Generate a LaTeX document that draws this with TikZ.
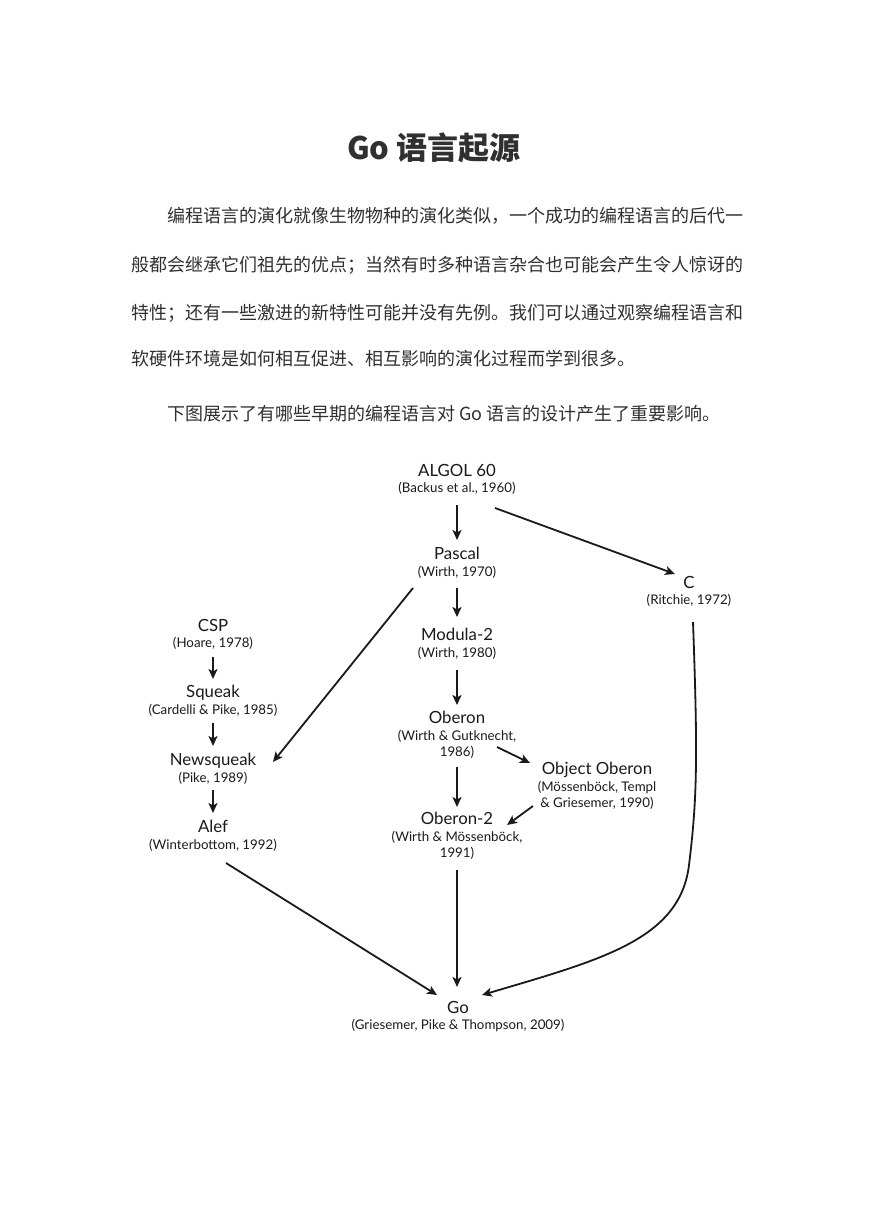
\documentclass[tikz,border=0pt]{standalone}
\usepackage{fontspec}
\newfontfamily\cjk{Noto Sans CJK SC}
\newfontfamily\lato{Lato}
\usetikzlibrary{arrows.meta,calc}
\definecolor{ink}{HTML}{1A1A1A}
\definecolor{bodytext}{HTML}{303030}
\newcommand\lname[1]{{\fontsize{16.8}{16.5}\selectfont\rule{0pt}{12pt}#1}}
\tikzset{
  body/.style={anchor=base west, inner sep=0pt, text=bodytext, font=\cjk\fontsize{18}{18}\selectfont},
  lang/.style={anchor=north, align=center, inner sep=0pt, text=ink, font=\lato\fontsize{13.3}{16.5}\selectfont},
  arr/.style={draw=ink, line width=1.8pt, -{Stealth[length=10pt,width=9pt,inset=2.5pt]}}
}
\begin{document}
\begin{tikzpicture}[x=1pt,y=-1pt]
\fill[white] (0,0) rectangle (868,1228);
\useasboundingbox (0,0) rectangle (868,1228);

\node[anchor=base, inner sep=0pt, text=bodytext, font=\cjk\bfseries\fontsize{31}{31}\selectfont] (title) at (434,159) {Go 语言起源};

\node[body] (p1) at (167,222) {编程语言的演化就像生物物种的演化类似，一个成功的编程语言的后代一};
\node[body] (p2) at (131,271) {般都会继承它们祖先的优点；当然有时多种语言杂合也可能会产生令人惊讶的};
\node[body] (p3) at (131,319) {特性；还有一些激进的新特性可能并没有先例。我们可以通过观察编程语言和};
\node[body] (p4) at (131,365) {软硬件环境是如何相互促进、相互影响的演化过程而学到很多。};
\node[body] (p5) at (167,420) {下图展示了有哪些早期的编程语言对 Go 语言的设计产生了重要影响。};

\node[lang] (algol) at (457,464) {\lname{ALGOL 60}\\(Backus et al., 1960)};
\node[lang] (pascal) at (457,547) {\lname{Pascal}\\(Wirth, 1970)};
\node[lang] (c) at (689,576) {\lname{C}\\(Ritchie, 1972)};
\node[lang] (csp) at (213,619) {\lname{CSP}\\(Hoare, 1978)};
\node[lang] (modula) at (457,628) {\lname{Modula-2}\\(Wirth, 1980)};
\node[lang] (squeak) at (213,685) {\lname{Squeak}\\(Cardelli \& Pike, 1985)};
\node[lang] (oberon) at (457,711) {\lname{Oberon}\\(Wirth \& Gutknecht,\\1986)};
\node[lang] (newsq) at (213,753) {\lname{Newsqueak}\\(Pike, 1989)};
\node[lang] (objob) at (597,762) {\lname{Object Oberon}\\(Mössenböck, Templ\\\& Griesemer, 1990)};
\node[lang] (oberon2) at (457,812) {\lname{Oberon-2}\\(Wirth \& Mössenböck,\\1991)};
\node[lang] (alef) at (213,820) {\lname{Alef}\\(Winterbottom, 1992)};
\node[lang] (go) at (458,1001) {\lname{Go}\\(Griesemer, Pike \& Thompson, 2009)};

\draw[arr] ($(algol.north)+(0,41)$) -- ($(pascal.north)+(0,-7)$);
\draw[arr] ($(algol.north)+(38,44)$) -- ($(c.north)+(-14,-2)$);
\draw[arr] ($(pascal.north)+(0,41)$) -- ($(modula.north)+(0,-11)$);
\draw[arr] ($(pascal.north)+(-44,41)$) -- ($(newsq.north)+(60,9)$);
\draw[arr] ($(modula.north)+(0,42)$) -- ($(oberon.north)+(0,-6)$);
\draw[arr] ($(oberon.north)+(40,36)$) -- ($(objob.north)+(-67,1)$);
\draw[arr] ($(oberon.north)+(0,56)$) -- ($(oberon2.north)+(0,-5)$);
\draw[arr] ($(objob.north)+(-64,44)$) -- ($(oberon2.north)+(50,13)$);
\draw[arr] ($(oberon2.north)+(0,58)$) -- ($(go.north)+(-1,-14)$);
\draw[arr] ($(csp.north)+(0,38)$) -- ($(squeak.north)+(0,-6)$);
\draw[arr] ($(squeak.north)+(0,38)$) -- ($(newsq.north)+(0,-7)$);
\draw[arr] ($(newsq.north)+(0,37)$) -- ($(alef.north)+(0,-7)$);
\draw[arr] ($(alef.north)+(13,43)$) -- ($(go.north)+(-21,-6)$);
\draw[arr] ($(c.north)+(4,46)$) .. controls (698,760) and (697,800) .. (689,865)
  .. controls (680,940) and (600,960) .. ($(go.north)+(24,-6)$);
\end{tikzpicture}
\end{document}
